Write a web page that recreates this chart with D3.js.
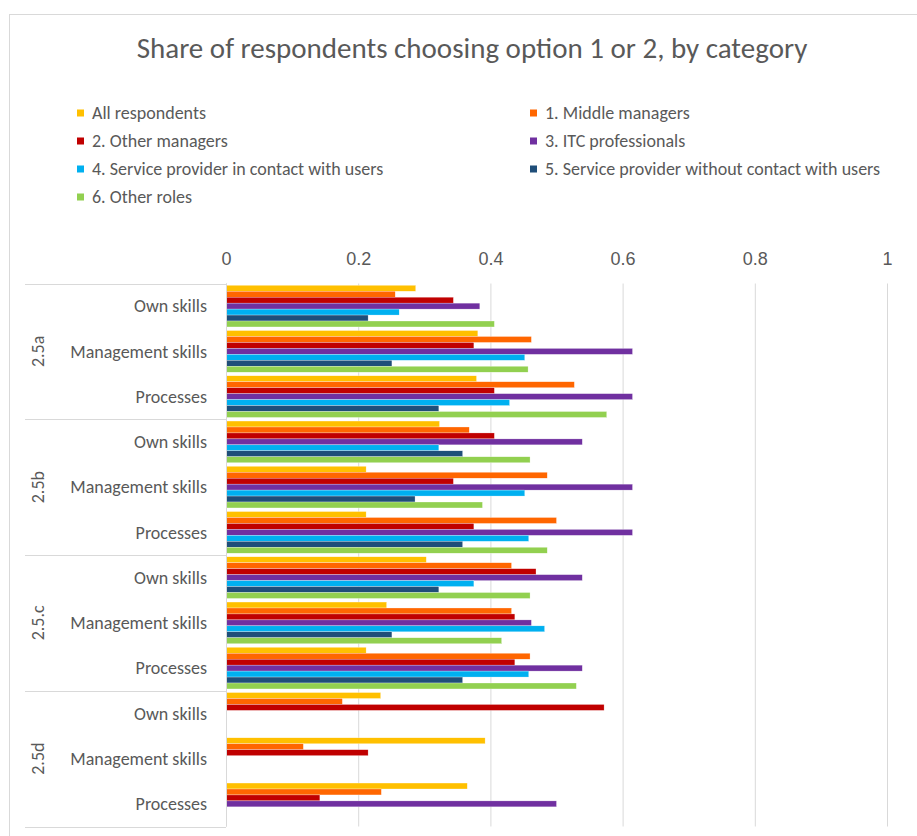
<!DOCTYPE html>
<html>
<head>
<meta charset="utf-8">
<script src="https://cdn.jsdelivr.net/npm/d3@7"></script>
<style>
  html, body { margin: 0; padding: 0; background: #fff; }
  svg { display: block; font-family: Carlito, Lato, "Open Sans", sans-serif; }
</style>
</head>
<body>
<svg id="chart" width="917" height="836"></svg>
<script>
// Question groups and the three items asked in each
const groups = ["2.5a", "2.5b", "2.5.c", "2.5d"];
const items = ["Own skills", "Management skills", "Processes"];

// Respondent categories (series), top to bottom within each item
const seriesNames = [
  "All respondents",
  "1. Middle managers",
  "2. Other managers",
  "3. ITC professionals",
  "4. Service provider in contact with users",
  "5. Service provider without contact with users",
  "6. Other roles"
];
const seriesColors = ["#FFC000", "#FF6600", "#C00000", "#7030A0", "#00B0F0", "#1F4E79", "#92D050"];

// Shares per series, in order 2.5a (Own, Mgmt, Proc), 2.5b (...), 2.5.c (...), 2.5d (...)
const allRespondents  = [0.287, 0.381, 0.379, 0.323, 0.212, 0.212, 0.303, 0.243, 0.212, 0.234, 0.392, 0.365];
const middleManagers  = [0.256, 0.462, 0.527, 0.368, 0.486, 0.500, 0.432, 0.432, 0.460, 0.176, 0.117, 0.235];
const otherManagers   = [0.344, 0.375, 0.406, 0.406, 0.344, 0.375, 0.469, 0.437, 0.437, 0.572, 0.215, 0.142];
const itcProfessionals= [0.384, 0.615, 0.615, 0.539, 0.615, 0.615, 0.539, 0.462, 0.539, null, null, 0.500];
const spInContact     = [0.262, 0.452, 0.429, 0.322, 0.452, 0.458, 0.375, 0.482, 0.458, null, null, null];
const spNoContact     = [0.215, 0.251, 0.322, 0.358, 0.286, 0.358, 0.322, 0.251, 0.358, null, null, null];
const otherRoles      = [0.406, 0.457, 0.576, 0.460, 0.388, 0.486, 0.460, 0.417, 0.530, null, null, null];
const seriesValues = [allRespondents, middleManagers, otherManagers, itcProfessionals, spInContact, spNoContact, otherRoles];

const xTicks = [0, 0.2, 0.4, 0.6, 0.8, 1];

const svg = d3.select("#chart");
const textColor = "#595959";
const lineColor = "#D9D9D9";
const labelSize = 18;

// Chart frame
svg.append("rect")
  .attr("x", 9.5).attr("y", 14.5)
  .attr("width", 940).attr("height", 860)
  .attr("fill", "#fff").attr("stroke", lineColor);

// Title
svg.append("text")
  .attr("x", 472).attr("y", 58)
  .attr("text-anchor", "middle")
  .attr("font-size", 29)
  .attr("font-weight", 300)
  .attr("fill", textColor)
  .text("Share of respondents choosing option 1 or 2, by category");

// Legend in two columns
const legend = svg.append("g");
seriesNames.forEach((name, i) => {
  const col = i % 2, row = Math.floor(i / 2);
  const x = col === 0 ? 77 : 530;
  const y = 113 + row * 28;
  legend.append("rect")
    .attr("x", x).attr("y", y - 3.5)
    .attr("width", 7).attr("height", 7)
    .attr("fill", seriesColors[i]);
  legend.append("text")
    .attr("x", x + 15).attr("y", y)
    .attr("dy", "0.35em")
    .attr("font-size", labelSize)
    .attr("fill", textColor)
    .text(name);
});

// Scales
const plotTop = 283.5, plotBottom = 826.5;
const x = d3.scaleLinear().domain([0, 1]).range([226, 887]);

const rows = [];
groups.forEach(g => items.forEach(it => rows.push({ group: g, item: it, key: g + "|" + it })));

const yRow = d3.scaleBand()
  .domain(rows.map(r => r.key))
  .range([plotTop, plotBottom])
  .paddingInner(0).paddingOuter(0);

const ySeries = d3.scaleBand()
  .domain(d3.range(seriesNames.length))
  .range([0, yRow.bandwidth()])
  .paddingInner(0).paddingOuter(0.3);

// Value axis on top with vertical gridlines
const xAxis = d3.axisTop(x)
  .tickValues(xTicks)
  .tickFormat(d3.format("~g"))
  .tickSize(0)
  .tickPadding(0);

const axisG = svg.append("g")
  .attr("transform", `translate(0, 265)`)
  .call(xAxis);
axisG.select(".domain").remove();
axisG.selectAll("text")
  .attr("font-family", null)
  .attr("font-size", labelSize)
  .attr("fill", textColor);

svg.append("g")
  .selectAll("line")
  .data(xTicks)
  .join("line")
  .attr("x1", d => x(d) + 0.5).attr("x2", d => x(d) + 0.5)
  .attr("y1", plotTop).attr("y2", plotBottom)
  .attr("stroke", lineColor);

// Category axis: group separators
const groupBounds = groups.map((g, gi) => ({
  group: g,
  y0: yRow(rows[gi * 3].key),
  y1: yRow(rows[gi * 3 + 2].key) + yRow.bandwidth()
}));

const catAxis = svg.append("g");
const sepYs = [plotTop].concat(groupBounds.map(b => b.y1));
catAxis.selectAll("line.sep")
  .data(sepYs)
  .join("line")
  .attr("class", "sep")
  .attr("x1", 25).attr("x2", 226)
  .attr("y1", d => Math.round(d) + 0.5).attr("y2", d => Math.round(d) + 0.5)
  .attr("stroke", lineColor);

// Item labels
catAxis.selectAll("text.item")
  .data(rows)
  .join("text")
  .attr("class", "item")
  .attr("x", 207)
  .attr("y", d => yRow(d.key) + yRow.bandwidth() / 2)
  .attr("dy", "0.35em")
  .attr("text-anchor", "end")
  .attr("font-size", labelSize)
  .attr("fill", textColor)
  .text(d => d.item);

// Group labels, rotated
catAxis.selectAll("text.group")
  .data(groupBounds)
  .join("text")
  .attr("class", "group")
  .attr("transform", d => `translate(38, ${(d.y0 + d.y1) / 2}) rotate(-90)`)
  .attr("dy", "0.35em")
  .attr("text-anchor", "middle")
  .attr("font-size", labelSize)
  .attr("fill", textColor)
  .text(d => d.group);

// Bars
const barData = [];
rows.forEach((r, ri) => {
  seriesValues.forEach((vals, si) => {
    if (vals[ri] != null) barData.push({ key: r.key, s: si, v: vals[ri] });
  });
});

svg.append("g")
  .selectAll("rect")
  .data(barData)
  .join("rect")
  .attr("x", x(0))
  .attr("y", d => yRow(d.key) + ySeries(d.s))
  .attr("width", d => x(d.v) - x(0))
  .attr("height", ySeries.bandwidth())
  .attr("fill", d => seriesColors[d.s])
  .attr("stroke", "#fff")
  .attr("stroke-width", 0.4)
  .attr("stroke-opacity", 0.7);

// Category axis line
svg.append("line")
  .attr("x1", 226.5).attr("x2", 226.5)
  .attr("y1", plotTop).attr("y2", plotBottom)
  .attr("stroke", lineColor);
</script>
</body>
</html>
